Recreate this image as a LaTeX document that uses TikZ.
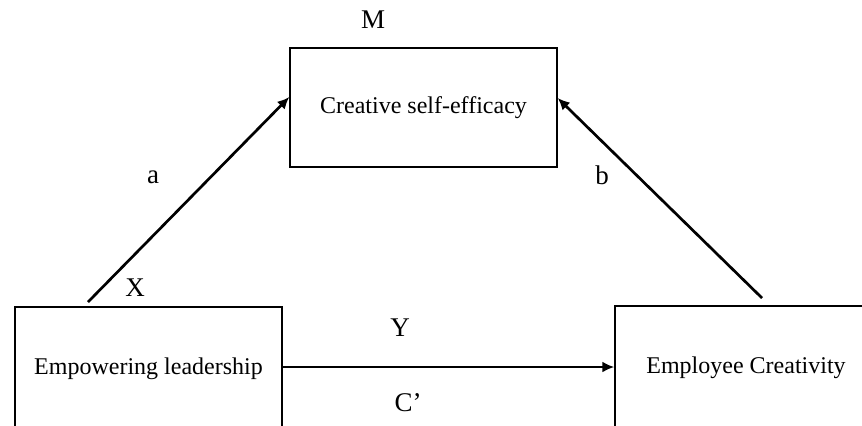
\documentclass[tikz,border=0pt]{standalone}
\usepackage{fontspec}
\setmainfont{Liberation Serif}
\usetikzlibrary{arrows.meta}
\tikzset{
  varbox/.style={draw, line width=0.7pt, align=center, font=\fontsize{12}{14}\selectfont},
  pathlabel/.style={font=\fontsize{13.5}{16}\selectfont},
  patharrow/.style={-{Latex[length=6pt, width=5.5pt]}, line width=1.35pt}
}

\begin{document}
\begin{tikzpicture}[x=0.5pt, y=-0.5pt]
  \useasboundingbox (0,0) rectangle (862,425);
  \clip (0,0) rectangle (862,425);
  % Three variables
  \node[varbox, minimum width=133.5pt, minimum height=59.5pt] (cse) at (423.5,107.5) {Creative self-efficacy};
  \node[varbox, minimum width=133.5pt, minimum height=62pt] (lead) at (148.5,369) {Empowering leadership};
  \node[varbox, minimum width=131pt, minimum height=62pt] (creat) at (746,368) {Employee Creativity};

  % Free ends of the indirect paths
  \coordinate (atail) at (88,302);
  \coordinate (btail) at (762,298);

  % Arrows
  \draw[patharrow] (atail) -- (cse.west |- 0,97);
  \draw[patharrow] (btail) -- (cse.east |- 0,98);
  \draw[patharrow] (lead.east |- 0,367) -- (creat.west |- 0,367);

  % Labels
  \node[pathlabel] (mlab) at (373,20) {M};
  \node[pathlabel] (xlab) at (135,288) {X};
  \node[pathlabel] (ylab) at (400,328) {Y};
  \node[pathlabel] (clab) at (408,403) {C’};
  \node[pathlabel] (alab) at (153,177) {a};
  \node[pathlabel] (blab) at (602,175) {b};
\end{tikzpicture}
\end{document}
